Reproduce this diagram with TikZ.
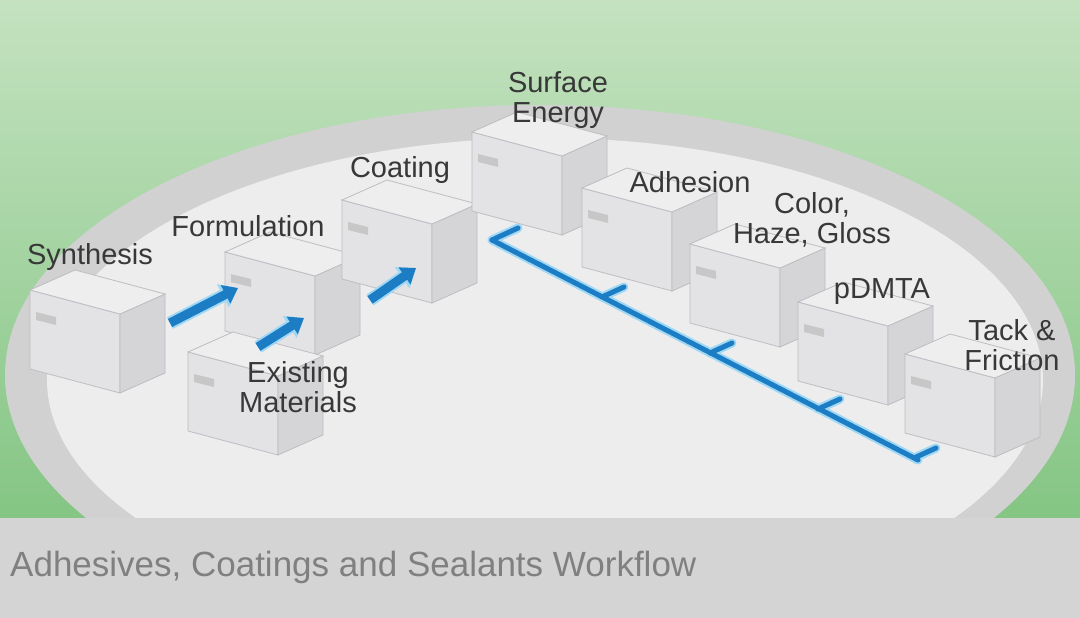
\documentclass[tikz,border=0pt]{standalone}
\usepackage{fontspec}
\setmainfont{Liberation Sans}
\usetikzlibrary{arrows.meta}
\definecolor{gtop}{HTML}{C4E2C0}
\definecolor{gbot}{HTML}{78C078}
\definecolor{bxtop}{HTML}{EEEEEF}
\definecolor{bxfront}{HTML}{E3E3E5}
\definecolor{bxside}{HTML}{D5D5D8}
\definecolor{bxedge}{HTML}{BDBDC2}
\definecolor{flow}{HTML}{1C7CC4}
\definecolor{glow}{HTML}{9FD8F5}
\tikzset{
  lbl/.style={font=\fontsize{29}{30}\selectfont, text=black!78, align=center, inner sep=0},
  flowarrow/.style={draw=flow, line width=9pt, -{Triangle[length=14pt,width=20pt]}},
  glowarrow/.style={draw=glow, line width=13pt, -{Triangle[length=17pt,width=25pt]}},
}
\newcommand{\mybox}[3]{% name, x, y
  \begin{scope}[shift={(#2,#3)}]
    \fill[bxfront,draw=bxedge,line width=0.8pt] (0,0) -- (90,24) -- (90,103) -- (0,79) -- cycle;
    \fill[bxside,draw=bxedge,line width=0.8pt] (90,24) -- (135,4) -- (135,83) -- (90,103) -- cycle;
    \fill[bxtop,draw=bxedge,line width=0.8pt] (0,0) -- (45,-20) -- (135,4) -- (90,24) -- cycle;
    \fill[black!22] (6,22) -- (26,27) -- (26,35) -- (6,30) -- cycle;
    \coordinate (#1) at (90,24);
  \end{scope}}
\begin{document}
\begin{tikzpicture}[x=1pt,y=-1pt]
\useasboundingbox (0,0) rectangle (1080,618);
\shade[top color=gtop, bottom color=gbot] (0,0) rectangle (1080,618);
\fill[black!18] (540,375) ellipse [x radius=535, y radius=270];
\fill[black!7] (545,380) ellipse [x radius=498, y radius=242];
\fill[black!17] (0,518) rectangle (1080,618);
\node[anchor=west, font=\fontsize{35}{37}\selectfont, text=black!50, inner sep=0] (title) at (10,567) {Adhesives, Coatings and Sealants Workflow};
% boxes
\mybox{syn}{30}{290}
\mybox{frm}{225}{252}
\mybox{exi}{188}{352}
\mybox{coa}{342}{200}
\mybox{sur}{472}{132}
\mybox{adh}{582}{188}
\mybox{col}{690}{244}
\mybox{pdm}{798}{302}
\mybox{tac}{905}{354}
% blue line
\coordinate (l0) at (492,240);
\coordinate (l1) at (918,460);
\coordinate (s0) at (518,228);
\coordinate (t1a) at (602,297); \coordinate (t1b) at (624,287);
\coordinate (t2a) at (710,353); \coordinate (t2b) at (732,343);
\coordinate (t3a) at (818,409); \coordinate (t3b) at (840,399);
\coordinate (t4a) at (914,458); \coordinate (t4b) at (936,448);
\foreach \c/\w in {glow/9pt, flow/5pt}{
  \draw[\c, line width=\w, line cap=round] (l0) -- (s0);
  \draw[\c, line width=\w, line cap=round] (l0) -- (l1);
  \draw[\c, line width=\w, line cap=round] (t1a) -- (t1b);
  \draw[\c, line width=\w, line cap=round] (t2a) -- (t2b);
  \draw[\c, line width=\w, line cap=round] (t3a) -- (t3b);
  \draw[\c, line width=\w, line cap=round] (t4a) -- (t4b);
}
% arrows
\coordinate (a1s) at (170,323); \coordinate (a1e) at (238,288);
\coordinate (a2s) at (258,347); \coordinate (a2e) at (304,318);
\coordinate (a3s) at (370,300); \coordinate (a3e) at (416,268);
\foreach \s/\e in {a1s/a1e, a2s/a2e, a3s/a3e}{
  \draw[glowarrow] (\s) -- (\e);
  \draw[flowarrow] (\s) -- (\e);
}
% labels
\node[lbl] (n1) at (90,257) {Synthesis};
\node[lbl] (n2) at (248,226) {Formulation};
\node[lbl] (n3) at (298,387) {Existing\\Materials};
\node[lbl] (n4) at (400,170) {Coating};
\node[lbl] (n5) at (558,100) {Surface\\Energy};
\node[lbl] (n6) at (690,182) {Adhesion};
\node[lbl] (n7) at (812,220) {Color,\\Haze, Gloss};
\node[lbl] (n8) at (882,292) {pDMTA};
\node[lbl] (n9) at (1012,345) {Tack \&\\Friction};
\end{tikzpicture}
\end{document}
